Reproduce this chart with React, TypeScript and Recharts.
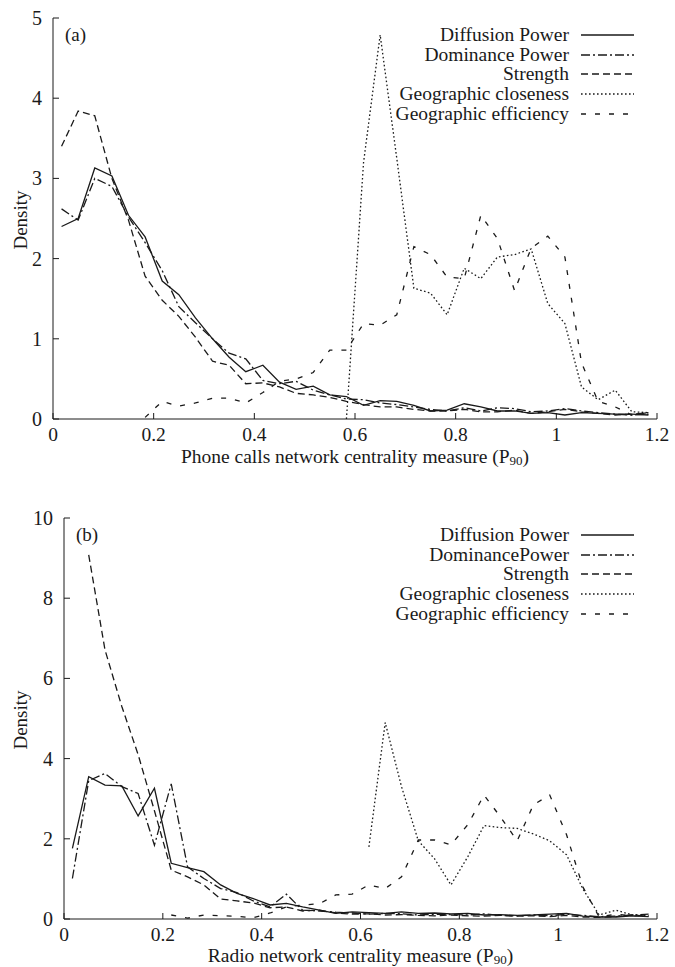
import React from "react";
import { LineChart, Line, XAxis, YAxis, Legend, Label } from "recharts";

// bin centres of the density histograms (shared by both panels)
const X_BINS = [
  0.017, 0.05, 0.083, 0.117, 0.15, 0.183, 0.217, 0.25, 0.283, 0.317, 0.35, 0.383,
  0.417, 0.45, 0.483, 0.517, 0.55, 0.583, 0.617, 0.65, 0.683, 0.717, 0.75, 0.783,
  0.817, 0.85, 0.883, 0.917, 0.95, 0.983, 1.017, 1.05, 1.083, 1.117, 1.15, 1.183,
];

const X_TICKS = [0, 0.2, 0.4, 0.6, 0.8, 1, 1.2];
const PHONE_Y_TICKS = [0, 1, 2, 3, 4, 5];
const RADIO_Y_TICKS = [0, 2, 4, 6, 8, 10];

const N = null;

// (a) phone calls network
const phoneDiffusion = [2.4, 2.5, 3.13, 3.03, 2.54, 2.27, 1.72, 1.55, 1.26, 1.0, 0.77, 0.59, 0.67, 0.46, 0.37, 0.41, 0.3, 0.28, 0.17, 0.23, 0.22, 0.17, 0.1, 0.11, 0.19, 0.15, 0.1, 0.1, 0.07, 0.08, 0.05, 0.08, 0.07, 0.06, 0.06, 0.05];
const phoneDominance = [2.62, 2.48, 3.0, 2.9, 2.52, 2.2, 1.85, 1.4, 1.2, 1.0, 0.82, 0.75, 0.48, 0.44, 0.47, 0.36, 0.3, 0.25, 0.24, 0.2, 0.18, 0.15, 0.12, 0.1, 0.14, 0.1, 0.14, 0.13, 0.09, 0.1, 0.13, 0.1, 0.08, 0.06, 0.05, 0.06];
const phoneStrength = [3.4, 3.84, 3.78, 3.0, 2.48, 1.78, 1.48, 1.28, 1.02, 0.72, 0.67, 0.44, 0.45, 0.4, 0.32, 0.3, 0.27, 0.22, 0.18, 0.15, 0.15, 0.12, 0.1, 0.1, 0.12, 0.09, 0.09, 0.11, 0.07, 0.09, 0.12, 0.09, 0.07, 0.05, 0.06, 0.08];
const phoneCloseness = [N, N, N, N, N, N, N, N, N, N, N, N, N, N, N, N, N, 0, 3.2, 4.79, 3.25, 1.63, 1.57, 1.3, 1.88, 1.75, 2.02, 2.05, 2.12, 1.44, 1.19, 0.4, 0.24, 0.36, 0.09, 0.08];
const phoneEfficiency = [N, N, N, N, N, 0.02, 0.22, 0.16, 0.2, 0.26, 0.26, 0.2, 0.33, 0.47, 0.5, 0.58, 0.86, 0.86, 1.19, 1.17, 1.3, 2.15, 2.05, 1.77, 1.75, 2.54, 2.25, 1.6, 2.13, 2.28, 2.02, 0.7, 0.22, 0.15, 0.05, 0.08];

// (b) radio network
const radioDiffusion = [1.76, 3.55, 3.34, 3.32, 2.57, 3.26, 1.39, 1.28, 1.18, 0.85, 0.64, 0.51, 0.35, 0.39, 0.3, 0.22, 0.14, 0.18, 0.16, 0.14, 0.18, 0.14, 0.15, 0.13, 0.14, 0.1, 0.11, 0.09, 0.1, 0.12, 0.14, 0.07, 0.05, 0.05, 0.08, 0.06];
const radioDominance = [1.01, 3.45, 3.63, 3.3, 3.13, 1.84, 3.37, 1.3, 1.01, 0.76, 0.66, 0.45, 0.3, 0.62, 0.22, 0.2, 0.17, 0.15, 0.12, 0.14, 0.13, 0.1, 0.12, 0.11, 0.1, 0.13, 0.09, 0.08, 0.1, 0.08, 0.12, 0.09, 0.06, 0.07, 0.1, 0.12];
const radioStrength = [N, 9.08, 6.71, 5.3, 4.1, 2.7, 1.22, 1.05, 0.85, 0.5, 0.45, 0.4, 0.28, 0.3, 0.2, 0.22, 0.15, 0.12, 0.13, 0.1, 0.11, 0.09, 0.08, 0.1, 0.08, 0.07, 0.09, 0.07, 0.08, 0.06, 0.09, 0.05, 0.04, 0.06, 0.1, 0.07];
const radioCloseness = [N, N, N, N, N, N, N, N, N, N, N, N, N, N, N, N, N, N, 1.8, 4.9, 3.3, 1.95, 1.5, 0.85, 1.55, 2.33, 2.28, 2.26, 2.12, 1.95, 1.6, 0.75, 0.1, 0.22, 0.1, 0.08];
const radioEfficiency = [N, N, N, N, N, N, 0.1, 0.02, 0.1, 0.08, 0.07, 0.03, 0.15, 0.3, 0.35, 0.38, 0.6, 0.62, 0.85, 0.76, 1.05, 1.97, 1.97, 1.85, 2.35, 3.09, 2.55, 1.95, 2.85, 3.09, 2.1, 0.8, 0.05, 0.12, 0.08, 0.08];

const FONT = "'Liberation Serif', 'DejaVu Serif', serif";
const INK = "#1a1a1a";
const DASHES = [undefined, "9 3 2 3", "7 4", "1.6 2.4", "5 9"];

const toPoints = (vals: (number | null)[]) =>
  X_BINS.map((x, i) => ({ x, y: vals[i] })).filter((d) => d.y !== null);

const fmt = (v: number) => String(v);

const BottomTick = ({ x, y, payload }: any) => (
  <g>
    <line x1={x} x2={x} y1={y} y2={y - 6} stroke={INK} strokeWidth={1} />
    <text x={x} y={y + 22} textAnchor="middle" fontSize={19.5} fontFamily={FONT} fill={INK}>
      {fmt(payload.value)}
    </text>
  </g>
);
const TopTick = ({ x, y }: any) => <line x1={x} x2={x} y1={y} y2={y + 6} stroke={INK} strokeWidth={1} />;
const LeftTick = ({ x, y, payload }: any) => (
  <g>
    <line x1={x} x2={x + 6} y1={y} y2={y} stroke={INK} strokeWidth={1} />
    <text x={x - 11} y={y + 7} textAnchor="end" fontSize={20} fontFamily={FONT} fill={INK}>
      {fmt(payload.value)}
    </text>
  </g>
);
const RightTick = ({ x, y }: any) => <line x1={x} x2={x - 6} y1={y} y2={y} stroke={INK} strokeWidth={1} />;

function legendContent(names: string[]) {
  return () => (
    <div style={{ fontFamily: FONT, fontSize: 19.5, color: INK }}>
      {names.map((n, i) => (
        <div key={n} style={{ display: "flex", justifyContent: "flex-end", alignItems: "center", height: 19.7 }}>
          <span style={{ lineHeight: "19.7px" }}>{n}</span>
          <svg width={65} height={10} style={{ marginLeft: 12 }}>
            <line x1={0} x2={53} y1={5} y2={5} stroke={INK} strokeWidth={1.3} strokeDasharray={DASHES[i]} />
          </svg>
        </div>
      ))}
    </div>
  );
}

type PanelProps = {
  top: number;
  height: number;
  marginTop: number;
  yAxisWidth: number;
  xAxisHeight: number;
  yMax: number;
  yTicks: number[];
  series: (number | null)[][];
  names: string[];
  tag: string;
  title: string;
  titleOffset: number;
  densityY: number;
};

function Panel(p: PanelProps) {
  return (
    <div style={{ position: "absolute", left: 0, top: p.top, width: 675, height: p.height }}>
      <LineChart width={675} height={p.height} margin={{ top: p.marginTop, right: 18, left: 0, bottom: 0 }}>
        <XAxis
          dataKey="x"
          type="number"
          domain={[0, 1.2]}
          ticks={X_TICKS}
          interval={0}
          allowDataOverflow
          height={p.xAxisHeight}
          tickSize={0}
          tickMargin={0}
          tick={<BottomTick />}
          stroke={INK}
        >
          <Label
            content={({ viewBox }: any) => (
              <text
                x={viewBox.x + viewBox.width / 2}
                y={viewBox.y + p.titleOffset}
                textAnchor="middle"
                fontSize={19.5}
                fontFamily={FONT}
                fill={INK}
              >
                {p.title} (P
                <tspan dy={2} fontSize={13}>90</tspan>
                <tspan dy={-2}>)</tspan>
              </text>
            )}
          />
        </XAxis>
        <XAxis
          xAxisId="top"
          orientation="top"
          type="number"
          domain={[0, 1.2]}
          ticks={X_TICKS}
          interval={0}
          allowDataOverflow
          height={0}
          tickSize={0}
          tickMargin={0}
          tick={<TopTick />}
          stroke={INK}
        />
        <YAxis
          type="number"
          domain={[0, p.yMax]}
          ticks={p.yTicks}
          interval={0}
          allowDataOverflow
          width={p.yAxisWidth}
          tickSize={0}
          tickMargin={0}
          tick={<LeftTick />}
          stroke={INK}
        >
          <Label
            content={() => (
              <text
                x={20}
                y={p.densityY}
                textAnchor="middle"
                fontSize={19}
                fontFamily={FONT}
                fill={INK}
                transform={`rotate(-90 20 ${p.densityY})`}
                dominantBaseline="central"
              >
                Density
              </text>
            )}
          />
        </YAxis>
        <YAxis
          yAxisId="right"
          orientation="right"
          type="number"
          domain={[0, p.yMax]}
          ticks={p.yTicks}
          interval={0}
          allowDataOverflow
          width={0}
          tickSize={0}
          tickMargin={0}
          tick={<RightTick />}
          stroke={INK}
        />
        {p.series.map((vals, i) => (
          <Line
            key={p.names[i]}
            data={toPoints(vals)}
            dataKey="y"
            name={p.names[i]}
            type="linear"
            dot={false}
            activeDot={false}
            stroke={INK}
            strokeWidth={1.3}
            strokeDasharray={DASHES[i]}
            isAnimationActive={false}
          />
        ))}
        <Legend
          layout="vertical"
          align="center"
          verticalAlign="middle"
          wrapperStyle={{ top: p.marginTop + 7, left: 156, width: 490, height: 100 }}
          content={legendContent(p.names)}
        />
      </LineChart>
      <div
        style={{
          position: "absolute",
          left: p.yAxisWidth + 12,
          top: p.marginTop + 7,
          fontFamily: FONT,
          fontSize: 19,
          color: INK,
          lineHeight: "20px",
        }}
      >
        {p.tag}
      </div>
    </div>
  );
}

export default function App() {
  return (
    <div style={{ position: "absolute", left: 0, top: 0, width: 675, height: 967, background: "#fff" }}>
      <Panel
        top={0}
        height={480}
        marginTop={18}
        yAxisWidth={53}
        xAxisHeight={61}
        yMax={5}
        yTicks={PHONE_Y_TICKS}
        series={[phoneDiffusion, phoneDominance, phoneStrength, phoneCloseness, phoneEfficiency]}
        names={["Diffusion Power", "Dominance Power", "Strength", "Geographic closeness", "Geographic efficiency"]}
        tag="(a)"
        title="Phone calls network centrality measure"
        titleOffset={44}
        densityY={220}
      />
      <Panel
        top={480}
        height={487}
        marginTop={38}
        yAxisWidth={64}
        xAxisHeight={48}
        yMax={10}
        yTicks={RADIO_Y_TICKS}
        series={[radioDiffusion, radioDominance, radioStrength, radioCloseness, radioEfficiency]}
        names={["Diffusion Power", "DominancePower", "Strength", "Geographic closeness", "Geographic efficiency"]}
        tag="(b)"
        title="Radio network centrality measure"
        titleOffset={43}
        densityY={240}
      />
    </div>
  );
}
